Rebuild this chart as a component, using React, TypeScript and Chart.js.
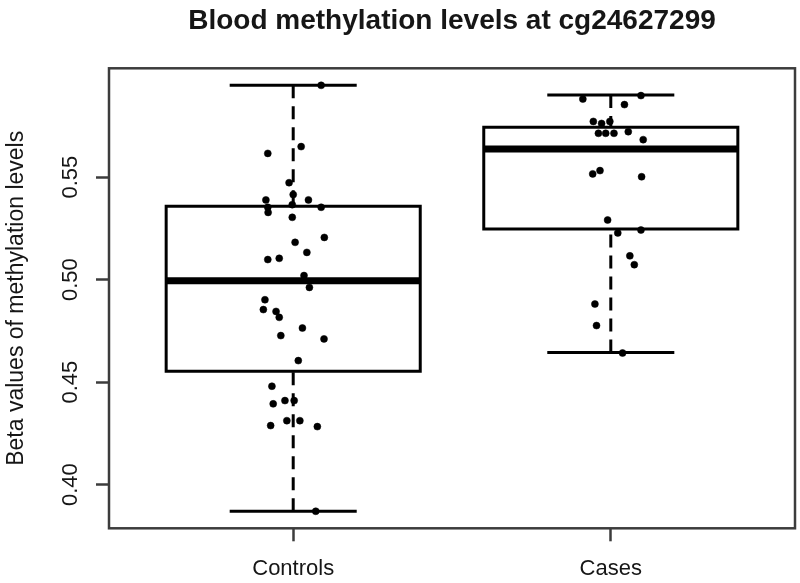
import React, { useEffect, useRef } from "react";
import { Chart, registerables } from "chart.js";
Chart.register(...registerables);

const title = "Blood methylation levels at cg24627299";
const yTitle = "Beta values of methylation levels";
const categories = ["Controls", "Cases"];
const yTicks = [0.4, 0.45, 0.5, 0.55];

// box stats: [lower whisker, Q1, median, Q3, upper whisker]
const controlsStats = [0.387, 0.4553, 0.4995, 0.5358, 0.5948];
const casesStats = [0.4645, 0.5247, 0.5638, 0.5743, 0.5901];

const controlsValues = [
  0.5948, 0.5616, 0.5649, 0.5473, 0.5415, 0.5389, 0.5389, 0.5353, 0.5328,
  0.5366, 0.5353, 0.5304, 0.5206, 0.5182, 0.5133, 0.5098, 0.5104, 0.502,
  0.4962, 0.4902, 0.4854, 0.4845, 0.4816, 0.4764, 0.4727, 0.4711, 0.4605,
  0.448, 0.4394, 0.441, 0.441, 0.4288, 0.4312, 0.4312, 0.4283, 0.387,
];
const controlsJitter = [
  0.088, -0.08, 0.025, -0.013, 0.0, -0.086, 0.048, -0.08, -0.079,
  -0.003, 0.088, -0.003, 0.098, 0.006, 0.043, -0.08, -0.044, 0.034,
  0.051, -0.089, -0.094, -0.054, -0.044, 0.029, -0.039, 0.097, 0.016,
  -0.067, -0.063, -0.026, 0.003, -0.071, -0.02, 0.021, 0.076, 0.071,
];
const casesValues = [
  0.5881, 0.5898, 0.5854, 0.5772, 0.5762, 0.5772, 0.5714, 0.5714, 0.5714,
  0.5722, 0.5683, 0.5516, 0.5532, 0.5502, 0.5291, 0.5228, 0.5242, 0.5116,
  0.5073, 0.4881, 0.4776, 0.4642,
];
const casesJitter = [
  -0.088, 0.095, 0.043, -0.055, -0.029, -0.003, -0.039, -0.016, 0.01,
  0.055, 0.102, -0.057, -0.034, 0.097, -0.01, 0.022, 0.095, 0.06,
  0.074, -0.05, -0.045, 0.037,
];

const groups = [
  { stats: controlsStats, values: controlsValues, jitter: controlsJitter },
  { stats: casesStats, values: casesValues, jitter: casesJitter },
];

const FONT = "'Liberation Sans', Arial, Helvetica, sans-serif";
const TEXT = "#161616";
const FRAME = "#3c3c3c";

function buildDatasets() {
  const ds: any[] = [];
  const line = (data: any[], width: number, order: number, dash: number[] = []) => ({
    type: "scatter",
    data,
    showLine: true,
    borderColor: "#000",
    backgroundColor: "#000",
    borderWidth: width,
    borderDash: dash,
    borderCapStyle: "butt",
    borderJoinStyle: "miter",
    pointRadius: 0,
    pointHoverRadius: 0,
    order,
  });
  groups.forEach((g, i) => {
    const c = i + 1;
    const [lo, q1, med, q3, hi] = g.stats;
    ds.push({
      type: "scatter",
      data: g.values.map((v, j) => ({ x: c + g.jitter[j], y: v })),
      pointRadius: 3.5,
      pointBackgroundColor: "#000",
      pointBorderColor: "#000",
      pointBorderWidth: 0.5,
      order: 0,
    });
    ds.push(line([{ x: c - 0.4, y: med }, { x: c + 0.4, y: med }], 7, 1));
    const box = line(
      [
        { x: c - 0.4, y: q1 },
        { x: c + 0.4, y: q1 },
        { x: c + 0.4, y: q3 },
        { x: c - 0.4, y: q3 },
        { x: c - 0.4, y: q1 },
      ],
      3,
      2
    );
    box.borderCapStyle = "square";
    ds.push(box);
    ds.push(line([{ x: c, y: lo }, { x: c, y: q1 }], 3, 3, [13, 8]));
    ds.push(line([{ x: c, y: hi }, { x: c, y: q3 }], 3, 3, [13, 8]));
    ds.push(line([{ x: c - 0.2, y: lo }, { x: c + 0.2, y: lo }], 3, 3));
    ds.push(line([{ x: c - 0.2, y: hi }, { x: c + 0.2, y: hi }], 3, 3));
  });
  return ds;
}

const framePlugin = {
  id: "frame",
  afterDatasetsDraw(chart: any) {
    const { ctx, chartArea } = chart;
    ctx.save();
    ctx.strokeStyle = FRAME;
    ctx.lineWidth = 2.5;
    ctx.strokeRect(chartArea.left, chartArea.top, chartArea.right - chartArea.left, chartArea.bottom - chartArea.top);
    ctx.restore();
  },
};

export default function App() {
  const ref = useRef<HTMLCanvasElement | null>(null);
  useEffect(() => {
    if (!ref.current) return;
    const all = groups.flatMap((g) => [...g.stats, ...g.values]);
    const dmin = Math.min(...all);
    const dmax = Math.max(...all);
    const r = dmax - dmin;
    const n = categories.length;
    const chart = new Chart(ref.current, {
      type: "scatter",
      data: { datasets: buildDatasets() },
      plugins: [framePlugin],
      options: {
        responsive: false,
        animation: false,
        devicePixelRatio: 1,
        layout: { padding: { left: 0, right: 5, top: 0, bottom: 0 } },
        plugins: {
          legend: { display: false },
          tooltip: { enabled: false },
          title: {
            display: true,
            text: title,
            fullSize: false,
            color: TEXT,
            font: { family: FONT, size: 28, weight: "bold", lineHeight: 1.2 },
            padding: { top: 4.5, bottom: 30.2 },
          },
        },
        scales: {
          x: {
            type: "linear",
            min: 0.5 - 0.04 * n,
            max: n + 0.5 + 0.04 * n,
            afterBuildTicks: (s: any) => {
              s.ticks = categories.map((_, i) => ({ value: i + 1 }));
            },
            afterFit: (s: any) => {
              s.height = 54.7;
            },
            ticks: {
              callback: (v: any) => categories[Math.round(v) - 1],
              color: TEXT,
              font: { family: FONT, size: 22 },
              padding: 14,
              maxRotation: 0,
              autoSkip: false,
            },
            grid: { drawOnChartArea: false, drawTicks: true, tickLength: 13, tickColor: FRAME, tickWidth: 2.5 },
            border: { display: false },
          },
          y: {
            type: "linear",
            min: dmin - 0.04 * r,
            max: dmax + 0.04 * r,
            afterBuildTicks: (s: any) => {
              s.ticks = yTicks.map((v) => ({ value: v }));
            },
            afterFit: (s: any) => {
              s.width = 109;
            },
            ticks: {
              callback: (v: any) => Number(v).toFixed(2),
              color: TEXT,
              font: { family: FONT, size: 22 },
              minRotation: 90,
              maxRotation: 90,
              crossAlign: "center",
              padding: 4,
              autoSkip: false,
            },
            grid: { drawOnChartArea: false, drawTicks: true, tickLength: 13, tickColor: FRAME, tickWidth: 2.5 },
            border: { display: false },
            title: {
              display: true,
              text: yTitle,
              color: TEXT,
              font: { family: FONT, size: 23, lineHeight: 1.2 },
              padding: { top: 2.5, bottom: 0 },
            },
          },
        },
      } as any,
    });
    return () => chart.destroy();
  }, []);
  return (
    <div style={{ position: "absolute", left: 0, top: 0, width: 800, height: 583, background: "#fff" }}>
      <canvas ref={ref} width={800} height={583} style={{ display: "block" }} />
    </div>
  );
}
